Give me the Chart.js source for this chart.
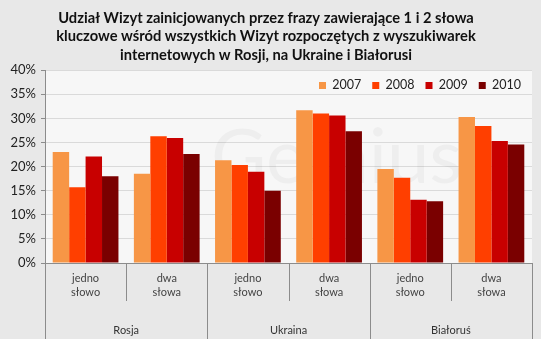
<!DOCTYPE html>
<html>
<head>
<meta charset="utf-8">
<script src="https://cdn.jsdelivr.net/npm/chart.js@4.4.0/dist/chart.umd.min.js"></script>
<style>
    html, body { margin: 0; padding: 0; background: #e8e8e8; }
    #wrap { width: 541px; height: 339px; }
</style>
</head>
<body>
<div id="wrap"><canvas id="chart" width="541" height="339"></canvas></div>
<script>
// ============================================================
// Udział Wizyt - wykres słupkowy (Rosja, Ukraina, Białoruś)
// ============================================================

const titleLines = [
    "Udział Wizyt zainicjowanych przez frazy zawierające 1 i 2 słowa",
    "kluczowe wśród wszystkich Wizyt rozpoczętych z wyszukiwarek",
    "internetowych w Rosji, na Ukraine i Białorusi"
];

const categories = [
    ["jedno", "słowo"], ["dwa", "słowa"],
    ["jedno", "słowo"], ["dwa", "słowa"],
    ["jedno", "słowo"], ["dwa", "słowa"]
];
const groups = ["Rosja", "Ukraina", "Białoruś"];
const years = ["2007", "2008", "2009", "2010"];

const v2007 = [23.0, 18.5, 21.3, 31.7, 19.5, 30.3];
const v2008 = [15.7, 26.3, 20.3, 31.0, 17.7, 28.4];
const v2009 = [22.1, 25.9, 18.9, 30.6, 13.1, 25.3];
const v2010 = [18.0, 22.6, 15.0, 27.3, 12.8, 24.6];

const colors = ["#f79646", "#ff3f00", "#c80000", "#7a0000"];

// Tło wykresu + znak wodny
const backgroundPlugin = {
    id: "backgroundPlugin",
    beforeDraw(chart) {
        const { ctx, chartArea: a } = chart;
        ctx.save();
        ctx.fillStyle = "#e8e8e8";
        ctx.fillRect(0, 0, chart.width, chart.height);
        ctx.fillStyle = "#f7f7f7";
        ctx.fillRect(a.left, a.top, a.right - a.left, a.bottom - a.top);
        ctx.restore();
    },
    beforeDatasetsDraw(chart) {
        const { ctx, chartArea: a } = chart;
        ctx.save();
        ctx.font = "76px Lato";
        ctx.fillStyle = "rgba(0,0,0,0.035)";
        ctx.textBaseline = "alphabetic";
        ctx.fillText("Gemius", a.left + 166, a.top + 113);
        ctx.restore();
    }
};

// Legenda wewnątrz obszaru wykresu (nie zabiera miejsca w układzie)
const legendInsidePlugin = {
    id: "legendInsidePlugin",
    beforeInit(chart) {
        const legend = chart.legend;
        if (!legend) return;
        const origFit = legend.fit;
        legend.fit = function () {
            origFit.call(this);
            this._realHeight = this.height;
            this.height = 0;
        };
    },
    afterLayout(chart) {
        const legend = chart.legend;
        if (!legend) return;
        legend.top -= 2;
        legend.bottom = legend.top + legend._realHeight;
        legend.height = legend._realHeight;
    }
};

// Linie podziału osi X i etykiety krajów
const groupAxisPlugin = {
    id: "groupAxisPlugin",
    afterDraw(chart) {
        const { ctx } = chart;
        const x = chart.scales.x;
        const n = categories.length;
        const per = n / groups.length;
        ctx.save();
        ctx.strokeStyle = "#8c8c8c";
        ctx.lineWidth = 1;
        for (let i = 0; i <= n; i++) {
            let px;
            if (i === 0) px = x.left;
            else if (i === n) px = x.right;
            else px = (x.getPixelForValue(i - 1) + x.getPixelForValue(i)) / 2;
            px = Math.round(px) + 0.5;
            const full = i % per === 0;
            ctx.beginPath();
            ctx.moveTo(px, x.top);
            ctx.lineTo(px, full ? chart.height : x.top + 38);
            ctx.stroke();
        }
        ctx.fillStyle = "#333";
        ctx.font = "11px Lato";
        ctx.textAlign = "center";
        ctx.textBaseline = "middle";
        groups.forEach((g, gi) => {
            const c = (x.getPixelForValue(gi * per) + x.getPixelForValue(gi * per + per - 1)) / 2;
            ctx.fillText(g, c, x.bottom - 9);
        });
        ctx.restore();
    }
};

const ctx = document.getElementById("chart").getContext("2d");

new Chart(ctx, {
    type: "bar",
    data: {
        labels: categories,
        datasets: [v2007, v2008, v2009, v2010].map((d, i) => ({
            label: years[i],
            data: d,
            backgroundColor: colors[i],
            borderWidth: 0,
            barPercentage: 1.0,
            categoryPercentage: 0.81
        }))
    },
    options: {
        responsive: false,
        animation: false,
        devicePixelRatio: 1,
        layout: { padding: { left: 0, right: 9, top: 0, bottom: 0 } },
        scales: {
            y: {
                min: 0,
                max: 40,
                ticks: {
                    stepSize: 5,
                    padding: 5,
                    color: "#222",
                    font: { family: "Lato", size: 13 },
                    callback: v => v + "%"
                },
                grid: { color: "#dadada", tickColor: "#8c8c8c", tickLength: 4 },
                border: { color: "#8c8c8c" },
                afterFit: s => { s.width = 45; }
            },
            x: {
                ticks: {
                    padding: 9,
                    color: "#444",
                    font: { family: "Lato", size: 11, lineHeight: 1.25 },
                    maxRotation: 0
                },
                grid: { display: true, drawOnChartArea: false, drawTicks: false },
                border: { color: "#8c8c8c" },
                afterFit: s => { s.height = 76; }
            }
        },
        plugins: {
            title: {
                display: true,
                text: titleLines,
                color: "#111",
                font: { family: "Lato", size: 14.7, weight: "bold", lineHeight: 1.25 },
                padding: { top: 9, bottom: 6 }
            },
            legend: {
                position: "top",
                align: "end",
                labels: {
                    boxWidth: 7,
                    boxHeight: 7,
                    padding: 11,
                    color: "#222",
                    font: { family: "Lato", size: 12.5 }
                }
            },
            tooltip: { enabled: false }
        }
    },
    plugins: [backgroundPlugin, legendInsidePlugin, groupAxisPlugin]
});
</script>
</body>
</html>
